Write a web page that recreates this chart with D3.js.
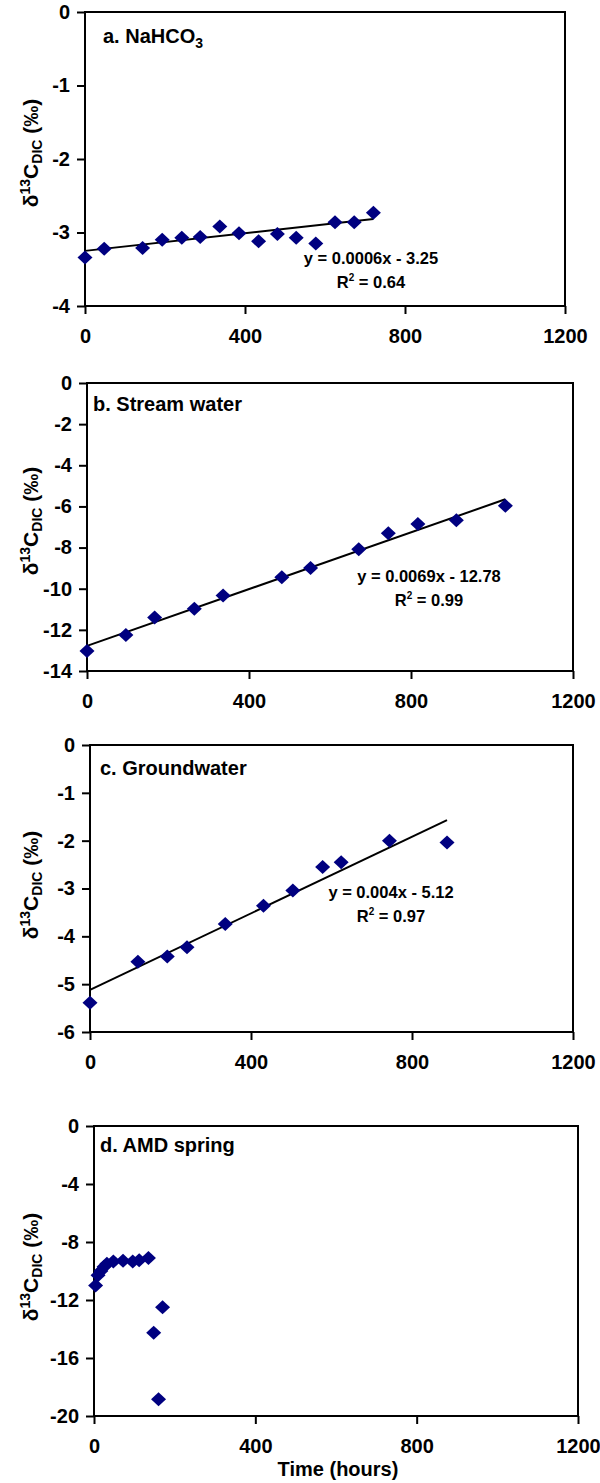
<!DOCTYPE html>
<html><head><meta charset="utf-8">
<script src="https://cdn.jsdelivr.net/npm/d3@7"></script>
<style>
body{margin:0;background:#fff}
svg{display:block}
text{font-family:"Liberation Sans",Arial,sans-serif;font-weight:bold;fill:#000}
</style>
</head><body>
<svg id="chart" width="600" height="1483"></svg>
<script>
// ---------- data ----------
const xTickValues = [0, 400, 800, 1200];

const aHours  = [0, 48, 144, 193, 242, 288, 337, 385, 434, 481, 528, 577, 625, 673, 721];
const aValues = [-3.34, -3.22, -3.21, -3.10, -3.07, -3.06, -2.92, -3.01, -3.12, -3.02, -3.07, -3.15, -2.86, -2.86, -2.73];
const aTicks  = [-4, -3, -2, -1, 0];
const aFit    = [0.0006, -3.25];
const aEq     = ["y = 0.0006x - 3.25", "0.64"];

const bHours  = [0, 96, 167, 265, 336, 481, 552, 671, 744, 817, 912, 1033];
const bValues = [-13.03, -12.25, -11.40, -10.97, -10.33, -9.44, -8.99, -8.08, -7.30, -6.86, -6.67, -5.97];
const bTicks  = [-14, -12, -10, -8, -6, -4, -2, 0];
const bFit    = [0.0069, -12.78];
const bEq     = ["y = 0.0069x - 12.78", "0.99"];

const cHours  = [0, 119, 192, 241, 336, 431, 504, 578, 624, 744, 887];
const cValues = [-5.39, -4.53, -4.42, -4.23, -3.74, -3.36, -3.04, -2.55, -2.45, -2.00, -2.04];
const cTicks  = [-6, -5, -4, -3, -2, -1, 0];
const cFit    = [0.004, -5.12];
const cEq     = ["y = 0.004x - 5.12", "0.97"];

const dHours  = [4, 10, 17, 25, 32, 48, 72, 96, 112, 135, 148, 160, 170];
const dValues = [-11.0, -10.3, -10.0, -9.7, -9.5, -9.35, -9.3, -9.35, -9.25, -9.1, -14.25, -18.85, -12.5];
const dTicks  = [-20, -16, -12, -8, -4, 0];

const titles = ["a. NaHCO", "b. Stream water", "c. Groundwater", "d. AMD spring"];

// ---------- layout ----------
const panels = [
  {hours:aHours, values:aValues, ticks:aTicks, fit:aFit, eq:aEq, title:titles[0], sub:"3",
   left:85, right:565, top:12, bottom:306, tx:103, ty:43, ex:371, ey:264, ly:153},
  {hours:bHours, values:bValues, ticks:bTicks, fit:bFit, eq:bEq, title:titles[1],
   left:87, right:573, top:383, bottom:671, tx:93, ty:411, ex:429, ey:582, ly:521},
  {hours:cHours, values:cValues, ticks:cTicks, fit:cFit, eq:cEq, title:titles[2],
   left:90, right:573, top:745, bottom:1032, tx:100, ty:775, ex:391, ey:898, ly:885},
  {hours:dHours, values:dValues, ticks:dTicks, title:titles[3],
   left:94, right:578, top:1126, bottom:1416, tx:100, ty:1152, ex:0, ey:0, ly:1267, xlabel:"Time (hours)"}
];

const svg = d3.select("#chart");
const navy = "#000080";
const FONT = '"Liberation Sans", Arial, sans-serif';
const TICK_FS = 20;

panels.forEach(p => {
  const x = d3.scaleLinear().domain([0, 1200]).range([p.left, p.right]);
  const y = d3.scaleLinear().domain([d3.min(p.ticks), d3.max(p.ticks)]).range([p.bottom, p.top]);
  const g = svg.append("g");
  const fmt = d => String(d);

  const xa = g.append("g").attr("transform", `translate(0,${p.bottom})`)
    .call(d3.axisBottom(x).tickValues(xTickValues).tickFormat(fmt).tickSize(8).tickSizeOuter(0).tickPadding(15));
  const ya = g.append("g").attr("transform", `translate(${p.left},0)`)
    .call(d3.axisLeft(y).tickValues(p.ticks).tickFormat(fmt).tickSize(8).tickSizeOuter(0).tickPadding(7));
  [xa, ya].forEach(a => {
    a.attr("font-size", TICK_FS).attr("font-family", FONT).attr("font-weight", "bold");
    a.select(".domain").remove();
    a.selectAll("line").attr("stroke", "#000").attr("stroke-width", 2);
    a.selectAll("text").attr("fill", "#000").attr("font-weight", "bold").attr("font-size", TICK_FS);
  });
  xa.selectAll("text").attr("dy", "0.71em");

  g.append("rect").attr("x", p.left).attr("y", p.top)
    .attr("width", p.right - p.left).attr("height", p.bottom - p.top)
    .attr("fill", "none").attr("stroke", "#000").attr("stroke-width", 2);

  if (p.fit) {
    const x0 = d3.min(p.hours), x1 = d3.max(p.hours);
    g.append("line")
      .attr("x1", x(x0)).attr("y1", y(p.fit[0] * x0 + p.fit[1]))
      .attr("x2", x(x1)).attr("y2", y(p.fit[0] * x1 + p.fit[1]))
      .attr("stroke", "#000").attr("stroke-width", 2);
  }

  const rx = 7.5, ry = 7;
  g.selectAll("path.pt").data(p.hours.map((h, i) => [h, p.values[i]])).enter()
    .append("path").attr("class", "pt")
    .attr("d", `M0,${-ry}L${rx},0L0,${ry}L${-rx},0Z`)
    .attr("transform", d => `translate(${x(d[0])},${y(d[1])})`)
    .attr("fill", navy);

  const t = g.append("text").attr("x", p.tx).attr("y", p.ty).style("font-size", "20px").text(p.title);
  if (p.sub) t.append("tspan").attr("dy", 5).style("font-size", "14px").text(p.sub);

  if (p.eq) {
    g.append("text").attr("x", p.ex).attr("y", p.ey).attr("text-anchor", "middle")
      .style("font-size", "16.5px").text(p.eq[0]);
    const r = g.append("text").attr("x", p.ex).attr("y", p.ey + 24).attr("text-anchor", "middle")
      .style("font-size", "16.5px");
    r.append("tspan").text("R");
    r.append("tspan").attr("dy", -7).style("font-size", "10px").text("2");
    r.append("tspan").attr("dy", 7).text(" = " + p.eq[1]);
  }

  const yl = g.append("text").attr("transform", `translate(38,${p.ly}) rotate(-90)`)
    .attr("text-anchor", "middle").style("font-size", "21px");
  yl.append("tspan").text("δ");
  yl.append("tspan").attr("dy", -8).style("font-size", "14px").text("13");
  yl.append("tspan").attr("dy", 8).text("C");
  yl.append("tspan").attr("dy", 4).style("font-size", "14px").text("DIC");
  yl.append("tspan").attr("dy", -4).text(" (‰)");

  if (p.xlabel) {
    g.append("text").attr("x", 338).attr("y", 1476).attr("text-anchor", "middle")
      .style("font-size", "20px").text(p.xlabel);
  }
});
</script>
</body></html>
